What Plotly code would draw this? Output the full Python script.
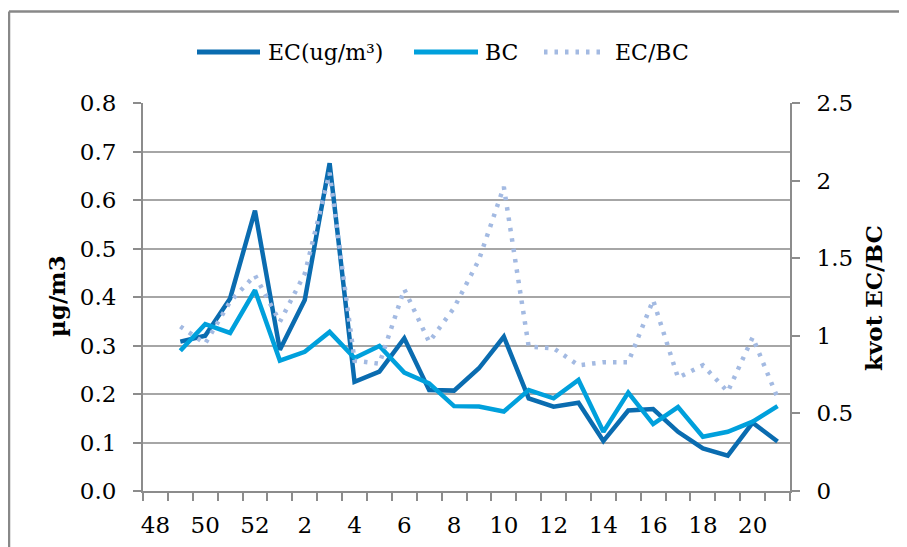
import plotly.graph_objects as go

weeks = ["48", "49", "50", "51", "52", "1", "2", "3", "4", "5", "6", "7", "8",
         "9", "10", "11", "12", "13", "14", "15", "16", "17", "18", "19", "20", "21"]

ec = [None, 0.308, 0.320, 0.397, 0.578, 0.291, 0.394, 0.676, 0.225, 0.246, 0.315,
      0.208, 0.207, 0.253, 0.318, 0.191, 0.174, 0.182, 0.103, 0.166, 0.169,
      0.122, 0.088, 0.073, 0.141, 0.102]

bc = [None, 0.289, 0.344, 0.326, 0.414, 0.269, 0.287, 0.328, 0.274, 0.299, 0.244,
      0.222, 0.175, 0.174, 0.164, 0.208, 0.191, 0.229, 0.122, 0.203, 0.138,
      0.173, 0.112, 0.122, 0.143, 0.175]

ratio = [None, 1.06, 0.95, 1.22, 1.39, 1.09, 1.40, 2.05, 0.84, 0.82, 1.30,
         0.96, 1.18, 1.49, 1.96, 0.93, 0.92, 0.81, 0.83, 0.83, 1.23,
         0.73, 0.81, 0.64, 0.99, 0.60]

series_names = ["EC(ug/m³)", "BC", "EC/BC"]
label_weeks = weeks[::2]

xidx = list(range(len(weeks)))
label_idx = xidx[::2]

FONT = "DejaVu Serif"
GRID = "#a6a6a6"
AXIS = "#8c8c8c"
C_EC = "#0a6cb0"
C_BC = "#00a0dc"
C_R = "#a3bae2"
DOT = "3.5px,7px"

# page body margin offset (screen px -> figure px)
OFF = 8
W, H = 907, 547
L, R, T, B = 143 - OFF, 790 - OFF, 103 - OFF, 491 - OFF


def px_x(p):
    return (p - OFF - L) / (R - L)


def px_y(p):
    return (B - (p - OFF)) / (B - T)


fig = go.Figure()
fig.add_trace(go.Scatter(x=xidx, y=ec, mode="lines", name=series_names[0],
                         line=dict(color=C_EC, width=4.5)))
fig.add_trace(go.Scatter(x=xidx, y=bc, mode="lines", name=series_names[1],
                         line=dict(color=C_BC, width=4.5)))
fig.add_trace(go.Scatter(x=xidx, y=ratio, mode="lines", name=series_names[2], yaxis="y2",
                         line=dict(color=C_R, width=4.5, dash=DOT)))

# legend drawn at the reference positions (screen px)
LEG_Y = 52
legend_items = [
    (197, 260, 266, C_EC, "solid"),
    (414, 478, 483, C_BC, "solid"),
    (544, 601, 613, C_R, DOT),
]
shapes = []
annotations = []
for (x0, x1, tx, col, dash), nm in zip(legend_items, series_names):
    shapes.append(dict(type="line", xref="paper", yref="paper",
                       x0=px_x(x0), x1=px_x(x1), y0=px_y(LEG_Y), y1=px_y(LEG_Y),
                       line=dict(color=col, width=5, dash=dash)))
    annotations.append(dict(text=nm, xref="paper", yref="paper", x=px_x(tx), y=px_y(LEG_Y),
                            xanchor="left", yanchor="middle", showarrow=False,
                            font=dict(size=22, family=FONT, color="#000000")))

annotations += [
    dict(text="<b>µg/m3</b>", xref="paper", yref="paper", x=px_x(56), y=px_y(296),
         textangle=-90, showarrow=False, font=dict(size=23, family=FONT),
         xanchor="center", yanchor="middle"),
    dict(text="<b>kvot EC/BC</b>", xref="paper", yref="paper", x=px_x(873), y=px_y(298),
         textangle=-90, showarrow=False, font=dict(size=23, family=FONT),
         xanchor="center", yanchor="middle"),
]
shapes += [
    dict(type="line", xref="paper", yref="paper", x0=px_x(9), x1=px_x(920),
         y0=px_y(11.5), y1=px_y(11.5), line=dict(color="#888888", width=2.5)),
    dict(type="line", xref="paper", yref="paper", x0=px_x(9), x1=px_x(9),
         y0=px_y(11.5), y1=px_y(560), line=dict(color="#888888", width=2.5)),
]

fig.update_layout(
    width=W, height=H, autosize=False,
    margin=dict(l=L, r=W - R, t=T, b=H - B, pad=0),
    paper_bgcolor="white", plot_bgcolor="white",
    font=dict(family=FONT, size=23, color="#000000"),
    showlegend=False,
    xaxis=dict(
        range=[-0.5, len(weeks) - 0.5], tickmode="array",
        tickvals=label_idx, ticktext=label_weeks, ticks="",
        showgrid=False, zeroline=False,
        showline=True, linecolor=AXIS, linewidth=2,
        ticklabelstandoff=12,
        tickfont=dict(size=23, family=FONT),
        minor=dict(ticks="outside", tick0=-0.5, dtick=1, ticklen=8,
                   tickcolor=AXIS, tickwidth=2, showgrid=False),
    ),
    yaxis=dict(
        range=[0, 0.8], dtick=0.1, tickformat=".1f",
        showgrid=True, gridcolor=GRID, gridwidth=2,
        zeroline=False, showline=True, linecolor=AXIS, linewidth=2,
        ticks="outside", ticklen=8, tickcolor=AXIS, tickwidth=2,
        ticklabelstandoff=12,
        tickfont=dict(size=23, family=FONT),
    ),
    yaxis2=dict(
        range=[0, 2.5], dtick=0.5, overlaying="y", side="right",
        showgrid=False, zeroline=False, showline=True, linecolor=AXIS, linewidth=2,
        ticks="outside", ticklen=8, tickcolor=AXIS, tickwidth=2,
        ticklabelstandoff=12,
        tickfont=dict(size=23, family=FONT),
    ),
    annotations=annotations,
    shapes=shapes,
)

fig.write_html("out.html")
